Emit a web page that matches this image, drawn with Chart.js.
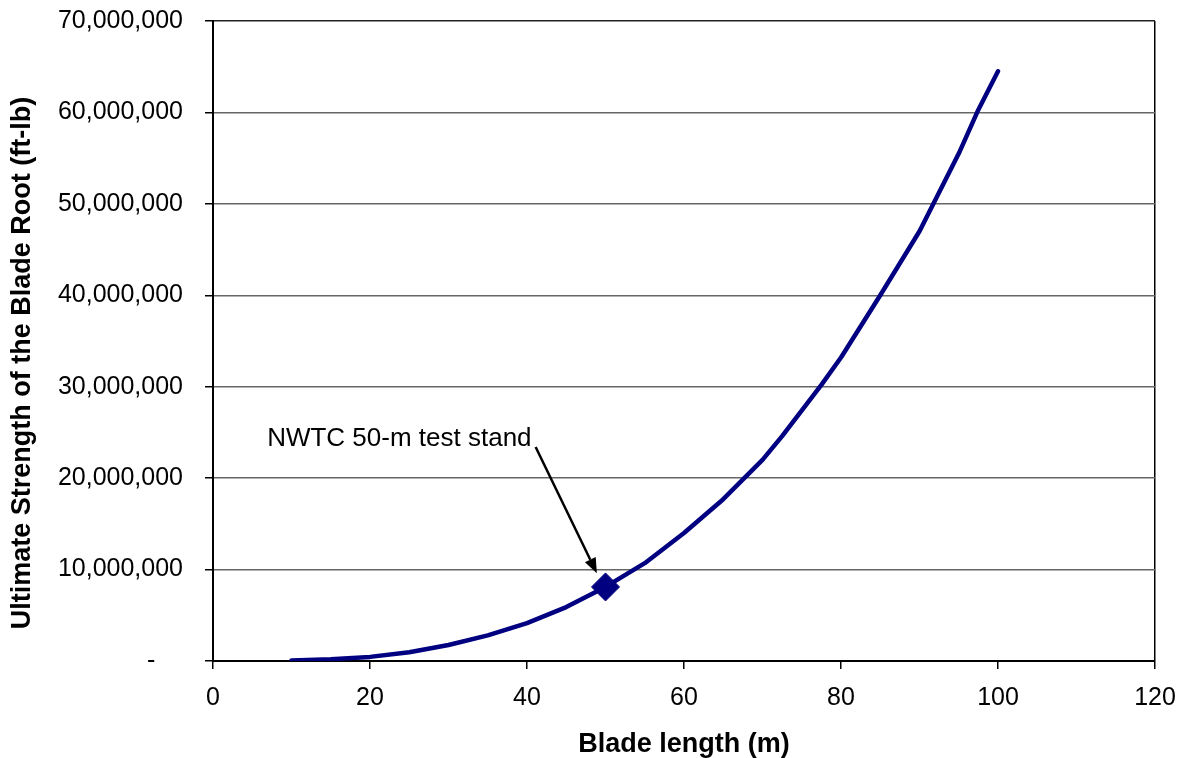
<!DOCTYPE html>
<html>
<head>
<meta charset="utf-8">
<script src="https://cdn.jsdelivr.net/npm/chart.js@4/dist/chart.umd.min.js"></script>
<style>
html,body{margin:0;padding:0;background:#fff;}
#wrap{width:1182px;height:758px;}
</style>
</head>
<body>
<div id="wrap"><canvas id="c" width="1182" height="758"></canvas></div>
<script>
const bladeLength = [10, 15, 20, 25, 30, 35, 40, 45, 50, 55, 60, 65, 70, 72.5, 77.5, 80, 85, 90, 95, 97.5, 100];
const ultimateStrength = [50000, 200000, 450000, 950000, 1750000, 2800000, 4150000, 5900000, 8100000, 10700000, 14000000, 17700000, 22000000, 24600000, 30200000, 33200000, 40000000, 47000000, 55500000, 60300000, 64500000];
const testStandLength = [50];
const testStandStrength = [8100000];
const annotationText = "NWTC 50-m test stand";
const xTicks = [0, 20, 40, 60, 80, 100, 120];
const yTicks = [0, 10000000, 20000000, 30000000, 40000000, 50000000, 60000000, 70000000];
const xTitle = "Blade length (m)";
const yTitle = "Ultimate Strength of the Blade Root (ft-lb)";

const curvePoints = bladeLength.map((x, i) => ({x: x, y: ultimateStrength[i]}));
const standPoints = testStandLength.map((x, i) => ({x: x, y: testStandStrength[i]}));

const FONT = "'Liberation Sans', Arial, sans-serif";

const annotationPlugin = {
  id: 'annot',
  afterDraw(chart) {
    const ctx = chart.ctx;
    ctx.save();
    // y-axis title
    ctx.fillStyle = '#000';
    ctx.font = "bold 27px " + FONT;
    ctx.textAlign = 'center';
    ctx.textBaseline = 'middle';
    ctx.translate(23, 363);
    ctx.rotate(-Math.PI / 2);
    ctx.fillText(yTitle, 0, 0);
    ctx.restore();
  },
  afterDatasetsDraw(chart) {
    const ctx = chart.ctx;
    const xs = chart.scales.x, ys = chart.scales.y;
    const tx = xs.getPixelForValue(6.9), ty = ys.getPixelForValue(24300000);
    ctx.save();
    ctx.fillStyle = '#000';
    ctx.font = "26px " + FONT;
    ctx.textAlign = 'left';
    ctx.textBaseline = 'middle';
    ctx.fillText(annotationText, tx, ty);
    const x1 = xs.getPixelForValue(41.1), y1 = ys.getPixelForValue(23400000);
    const x2 = xs.getPixelForValue(48.9), y2 = ys.getPixelForValue(9600000);
    ctx.strokeStyle = '#000';
    ctx.lineWidth = 2.5;
    const ang = Math.atan2(y2 - y1, x2 - x1);
    const hl = 15, hw = 6;
    const bx = x2 - hl * Math.cos(ang), by = y2 - hl * Math.sin(ang);
    ctx.beginPath();
    ctx.moveTo(x1, y1);
    ctx.lineTo(bx, by);
    ctx.stroke();
    ctx.beginPath();
    ctx.moveTo(x2, y2);
    ctx.lineTo(bx + hw * Math.sin(ang), by - hw * Math.cos(ang));
    ctx.lineTo(bx - hw * Math.sin(ang), by + hw * Math.cos(ang));
    ctx.closePath();
    ctx.fillStyle = '#000';
    ctx.fill();
    ctx.restore();
  }
};

new Chart(document.getElementById('c'), {
  type: 'scatter',
  data: {
    datasets: [
      {
        data: curvePoints,
        showLine: true,
        borderColor: '#000080',
        backgroundColor: '#000080',
        borderWidth: 4.5,
        pointRadius: 0,
        tension: 0,
        borderCapStyle: 'round',
        borderJoinStyle: 'round',
        order: 2
      },
      {
        data: standPoints,
        showLine: false,
        pointStyle: 'rectRot',
        pointRadius: 14,
        pointBackgroundColor: '#000080',
        pointBorderColor: '#000080',
        pointBorderWidth: 1,
        order: 1
      }
    ]
  },
  options: {
    responsive: false,
    animation: false,
    devicePixelRatio: 1,
    layout: {padding: {top: 21, right: 27, bottom: 0, left: 0}},
    plugins: {legend: {display: false}, tooltip: {enabled: false}},
    scales: {
      x: {
        type: 'linear',
        min: 0, max: 120,
        afterBuildTicks(scale) { scale.ticks = xTicks.map(v => ({value: v})); },
        afterFit(scale) { scale.height = 97; scale.paddingLeft = 0; scale.paddingRight = 0; },
        border: {display: true, color: '#000', width: 2},
        grid: {
          drawOnChartArea: true,
          color: (c) => (c.tick && c.tick.value === 120) ? '#000' : 'rgba(0,0,0,0)',
          lineWidth: 1.5,
          drawTicks: true,
          tickLength: 8,
          tickColor: '#000',
          tickWidth: 1.5
        },
        ticks: {
          color: '#000',
          font: {family: FONT, size: 25},
          padding: 14,
          maxRotation: 0,
          callback: (v) => String(v)
        },
        title: {
          display: true,
          text: xTitle,
          color: '#000',
          font: {family: FONT, size: 27, weight: 'bold', lineHeight: 1.0},
          padding: {top: 0, bottom: 0}
        }
      },
      y: {
        type: 'linear',
        min: 0, max: 70000000,
        afterBuildTicks(scale) { scale.ticks = yTicks.map(v => ({value: v})); },
        afterFit(scale) { scale.width = 213; scale.paddingTop = 0; scale.paddingBottom = 0; },
        border: {display: true, color: '#000', width: 2},
        grid: {
          color: (c) => (c.tick && c.tick.value === 70000000) ? '#222' : '#666',
          lineWidth: 1.5,
          drawTicks: true,
          tickLength: 8,
          tickColor: '#000',
          tickWidth: 1.5
        },
        ticks: {
          color: '#000',
          font: {family: FONT, size: 25},
          padding: 22,
          callback: (v) => v === 0 ? '-    ' : v.toLocaleString('en-US')
        },
        title: {display: false}
      }
    }
  },
  plugins: [annotationPlugin]
});
</script>
</body>
</html>
